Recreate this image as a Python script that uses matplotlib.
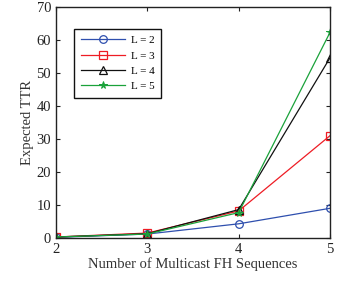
import matplotlib
matplotlib.use("Agg")
import matplotlib.pyplot as plt

plt.rcParams['font.family'] = ['Liberation Serif', 'DejaVu Serif']

# number of multicast FH sequences
x = [2, 3, 4, 5]

# expected TTR for each L
ttr_l2 = [0.2, 1.2, 4.3, 9.0]
ttr_l3 = [0.3, 1.5, 8.2, 31.0]
ttr_l4 = [0.3, 1.3, 8.6, 54.6]
ttr_l5 = [0.3, 1.2, 7.7, 62.3]

labels = ["L = 2", "L = 3", "L = 4", "L = 5"]

fig = plt.figure(figsize=(3.4, 2.85), dpi=100)
ax = fig.add_axes([56 / 340, 1 - 238 / 285, 274 / 340, 231 / 285])

ax.plot(x, ttr_l2, color="#2e4fae", lw=0.9, marker="o", ms=5.5, mfc="none", mew=0.9, label=labels[0])
ax.plot(x, ttr_l3, color="#ee1c24", lw=0.9, marker="s", ms=5.5, mfc="none", mew=0.9, label=labels[1])
ax.plot(x, ttr_l4, color="#111111", lw=0.9, marker="^", ms=5.5, mfc="none", mew=0.9, label=labels[2])
ax.plot(x, ttr_l5, color="#1aa23a", lw=0.9, marker="*", ms=5.5, mew=0.7, label=labels[3])

ax.set_xlim(2, 5)
ax.set_ylim(0, 70)
ax.set_xticks(x)
ax.set_yticks(range(0, 71, 10))
ax.tick_params(direction="in", top=True, right=True, labelsize=10.5, length=3, width=0.8, colors="#222222")
for s in ax.spines.values():
    s.set_linewidth(1.0)
    s.set_color("#222222")

ax.set_xlabel("Number of Multicast FH Sequences", fontsize=10.5, labelpad=1, color="#333333")
ax.set_ylabel("Expected TTR", fontsize=10.5, labelpad=2, color="#333333")

leg = ax.legend(loc="upper left", bbox_to_anchor=(0.045, 0.93), fontsize=8,
                fancybox=False, edgecolor="#111111", framealpha=1,
                handlelength=4.0, handletextpad=0.5, borderpad=0.6, labelspacing=0.5)
leg.get_frame().set_linewidth(1.0)

fig.savefig("out.png", dpi=100)
